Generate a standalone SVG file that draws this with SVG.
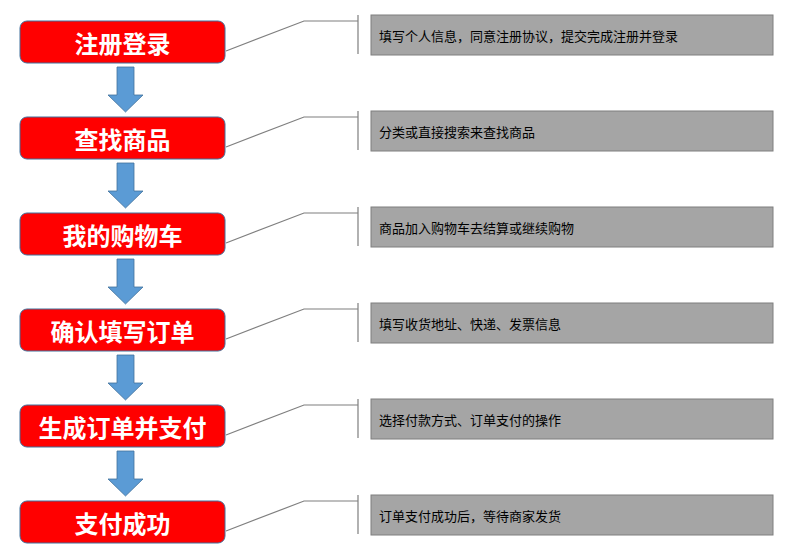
<svg xmlns="http://www.w3.org/2000/svg" width="794" height="557" viewBox="0 0 794 557">
<style>
.n rect{fill:#ff0000;stroke:#41719c;stroke-width:1}
.n text{fill:#fff;font:bold 24px "Noto Sans CJK SC","Liberation Sans",sans-serif;text-anchor:middle;dominant-baseline:central}
.c rect{fill:#a5a5a5;stroke:#7f7f7f;stroke-width:1}
.c text{fill:#000;font:13px "Noto Sans CJK SC","Liberation Sans",sans-serif;dominant-baseline:central}
.l{fill:none;stroke:#7f7f7f;stroke-width:1.2}
.a{fill:#5b9bd5;stroke:#41719c;stroke-width:0.8}
</style>
<defs>
<path id="arr" class="a" d="M117,0 H134 V28 H143 L125.5,45 L108,28 H117 Z"/>
</defs>
<g id="connectors">
<use href="#arr" y="67"/><use href="#arr" y="163"/><use href="#arr" y="259"/><use href="#arr" y="355"/><use href="#arr" y="451"/>
<g id="callout-lines">
<path class="l" d="M226,51 L304,21 H358 M358,15 V54"/>
<path class="l" d="M226,147 L304,117 H358 M358,111 V150"/>
<path class="l" d="M226,243 L304,213 H358 M358,207 V246"/>
<path class="l" d="M226,339 L304,309 H358 M358,303 V342"/>
<path class="l" d="M226,435 L304,405 H358 M358,399 V438"/>
<path class="l" d="M226,531 L304,501 H358 M358,495 V534"/>
</g>
</g>
<g id="n1" class="n"><rect x="20" y="21" width="205" height="42" rx="7"/><text x="122.5" y="42">注册登录</text></g>
<g id="n2" class="n"><rect x="20" y="117" width="205" height="42" rx="7"/><text x="122.5" y="138">查找商品</text></g>
<g id="n3" class="n"><rect x="20" y="213" width="205" height="42" rx="7"/><text x="122.5" y="234">我的购物车</text></g>
<g id="n4" class="n"><rect x="20" y="309" width="205" height="42" rx="7"/><text x="122.5" y="330">确认填写订单</text></g>
<g id="n5" class="n"><rect x="20" y="405" width="205" height="42" rx="7"/><text x="122.5" y="426">生成订单并支付</text></g>
<g id="n6" class="n"><rect x="20" y="501" width="205" height="42" rx="7"/><text x="122.5" y="522">支付成功</text></g>
<g id="d1" class="c"><rect x="371" y="15" width="402" height="40"/><text x="379" y="35">填写个人信息，同意注册协议，提交完成注册并登录</text></g>
<g id="d2" class="c"><rect x="371" y="111" width="402" height="40"/><text x="379" y="131">分类或直接搜索来查找商品</text></g>
<g id="d3" class="c"><rect x="371" y="207" width="402" height="40"/><text x="379" y="227">商品加入购物车去结算或继续购物</text></g>
<g id="d4" class="c"><rect x="371" y="303" width="402" height="40"/><text x="379" y="323">填写收货地址、快递、发票信息</text></g>
<g id="d5" class="c"><rect x="371" y="399" width="402" height="40"/><text x="379" y="419">选择付款方式、订单支付的操作</text></g>
<g id="d6" class="c"><rect x="371" y="495" width="402" height="40"/><text x="379" y="515">订单支付成功后，等待商家发货</text></g>
</svg>
